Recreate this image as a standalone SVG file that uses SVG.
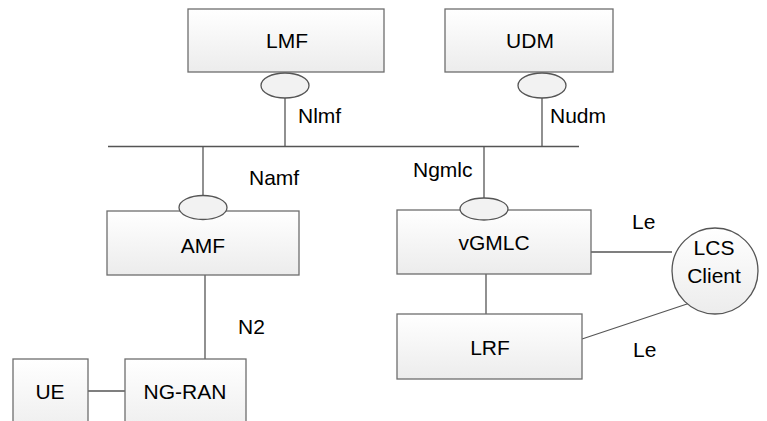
<svg xmlns="http://www.w3.org/2000/svg" width="767" height="421" viewBox="0 0 767 421">
<style>
.box{fill:url(#g);stroke:#6e6e6e;stroke-width:1.3}
.ell{fill:#f2f2f2;stroke:#555;stroke-width:1.3}
.ln{stroke:#555;stroke-width:1.3;fill:none}
text{font-family:"Liberation Sans",Arial,sans-serif;font-size:21px;fill:#000}
.c{text-anchor:middle}
</style>
<defs>
<linearGradient id="g" x1="0" y1="0" x2="0" y2="1">
<stop offset="0" stop-color="#ffffff"/>
<stop offset="1" stop-color="#ececec"/>
</linearGradient>
</defs>
<rect width="767" height="421" fill="#fff"/>
<g id="connectors">
<line class="ln" x1="108" y1="146.5" x2="579" y2="146.5"/>
<line class="ln" x1="285" y1="98" x2="285" y2="146.5"/>
<line class="ln" x1="542" y1="98" x2="542" y2="146.5"/>
<line class="ln" x1="203" y1="146.5" x2="203" y2="196"/>
<line class="ln" x1="484" y1="146.5" x2="484" y2="198"/>
<line class="ln" x1="205" y1="275" x2="205" y2="359"/>
<line class="ln" x1="88" y1="391" x2="125" y2="391"/>
<line class="ln" x1="486" y1="274" x2="486" y2="314"/>
<line class="ln" x1="591" y1="252" x2="672" y2="252"/>
<line class="ln" x1="582" y1="339" x2="690" y2="303"/>
<text x="298" y="123">Nlmf</text>
<text x="550" y="123">Nudm</text>
<text x="249" y="185">Namf</text>
<text x="413" y="177">Ngmlc</text>
<text x="238" y="334">N2</text>
<text x="632" y="229">Le</text>
<text x="633" y="357">Le</text>
</g>
<g id="LMF">
<rect class="box" x="188" y="9" width="196" height="63"/>
<text class="c" x="287" y="48">LMF</text>
<ellipse class="ell" cx="285" cy="85.5" rx="24" ry="12.5"/>
</g>
<g id="UDM">
<rect class="box" x="445" y="9" width="168" height="63"/>
<text class="c" x="530" y="48">UDM</text>
<ellipse class="ell" cx="542" cy="85.5" rx="24" ry="12.5"/>
</g>
<g id="AMF">
<rect class="box" x="107" y="211" width="192" height="64"/>
<text class="c" x="203" y="253">AMF</text>
<ellipse class="ell" cx="203" cy="207.5" rx="24" ry="12"/>
</g>
<g id="vGMLC">
<rect class="box" x="397" y="210" width="194" height="64"/>
<text class="c" x="494" y="250">vGMLC</text>
<ellipse class="ell" cx="484" cy="209" rx="24" ry="11"/>
</g>
<g id="LRF">
<rect class="box" x="397" y="314" width="185" height="65"/>
<text class="c" x="490" y="355">LRF</text>
</g>
<g id="LCSClient">
<circle class="ell" cx="715" cy="271" r="43" style="fill:url(#g)"/>
<text class="c" x="714" y="255">LCS</text>
<text class="c" x="714" y="283">Client</text>
</g>
<g id="UE">
<rect class="box" x="13" y="359" width="75" height="80"/>
<text class="c" x="50" y="399">UE</text>
</g>
<g id="NG-RAN">
<rect class="box" x="125" y="359" width="121" height="80"/>
<text class="c" x="185" y="399">NG-RAN</text>
</g>
</svg>
